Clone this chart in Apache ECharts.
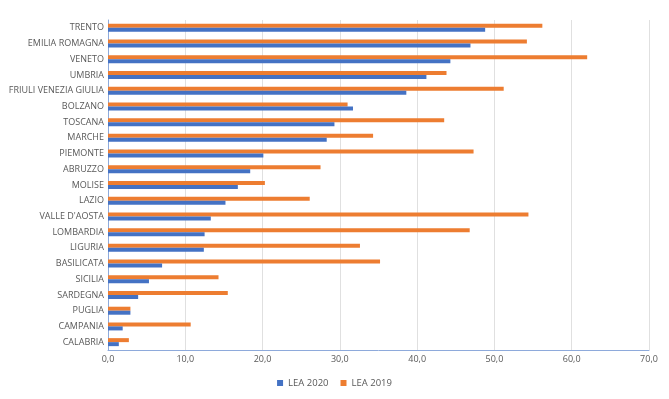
<!DOCTYPE html>
<html>
<head>
<meta charset="utf-8">
<script src="https://cdn.jsdelivr.net/npm/echarts@6/dist/echarts.min.js"></script>
<style>
  html, body { margin: 0; padding: 0; background: #fff; }
  #chart { width: 669px; height: 399px; }
</style>
</head>
<body>
<div id="chart"></div>
<script>
var regions = ['TRENTO', 'EMILIA ROMAGNA', 'VENETO', 'UMBRIA', 'FRIULI VENEZIA GIULIA', 'BOLZANO',
    'TOSCANA', 'MARCHE', 'PIEMONTE', 'ABRUZZO', 'MOLISE', 'LAZIO', "VALLE D'AOSTA", 'LOMBARDIA',
    'LIGURIA', 'BASILICATA', 'SICILIA', 'SARDEGNA', 'PUGLIA', 'CAMPANIA', 'CALABRIA'];
var lea2020 = [48.8, 46.9, 44.3, 41.2, 38.6, 31.7, 29.3, 28.3, 20.1, 18.4, 16.8, 15.2, 13.3, 12.5,
    12.4, 7.0, 5.3, 3.9, 2.9, 1.9, 1.4];
var lea2019 = [56.2, 54.2, 62.0, 43.8, 51.2, 31.0, 43.5, 34.3, 47.3, 27.5, 20.3, 26.1, 54.4, 46.8,
    32.6, 35.2, 14.3, 15.5, 2.9, 10.7, 2.7];
var xTicks = [0, 10, 20, 30, 40, 50, 60, 70];

var myChart = echarts.init(document.getElementById('chart'));
var font = '"Open Sans", "Liberation Sans", sans-serif';

// orange series first so it sits above the blue one in each row
myChart.setOption({
    backgroundColor: '#fff',
    animation: false,
    textStyle: { fontFamily: font },
    legend: {
        bottom: 6,
        left: 'center',
        itemWidth: 6,
        itemHeight: 6,
        itemGap: 12,
        icon: 'rect',
        textStyle: { color: '#595959', fontSize: 9.5, fontFamily: font },
        data: ['LEA 2020', 'LEA 2019']
    },
    grid: { left: 108, right: 20, top: 20, bottom: 49 },
    xAxis: {
        type: 'value',
        min: xTicks[0],
        max: xTicks[xTicks.length - 1],
        interval: 10,
        axisLine: { show: true, lineStyle: { color: '#8eaadb', width: 1 } },
        axisTick: { show: false },
        splitLine: { show: true, lineStyle: { color: '#e0e0e0', width: 1 } },
        axisLabel: {
            color: '#595959',
            fontSize: 9,
            margin: 5,
            formatter: function (v) { return v.toFixed(1).replace('.', ','); }
        }
    },
    yAxis: {
        type: 'category',
        inverse: true,
        data: regions,
        axisLine: { show: true, lineStyle: { color: '#8eaadb', width: 1 } },
        axisTick: { show: false },
        axisLabel: { color: '#595959', fontSize: 9, margin: 4 }
    },
    series: [
        {
            name: 'LEA 2019',
            type: 'bar',
            data: lea2019,
            barWidth: 4,
            barGap: '0%',
            itemStyle: { color: '#ed7d31' }
        },
        {
            name: 'LEA 2020',
            type: 'bar',
            data: lea2020,
            barWidth: 4,
            barGap: '0%',
            itemStyle: { color: '#4472c4' }
        }
    ]
});
</script>
</body>
</html>
